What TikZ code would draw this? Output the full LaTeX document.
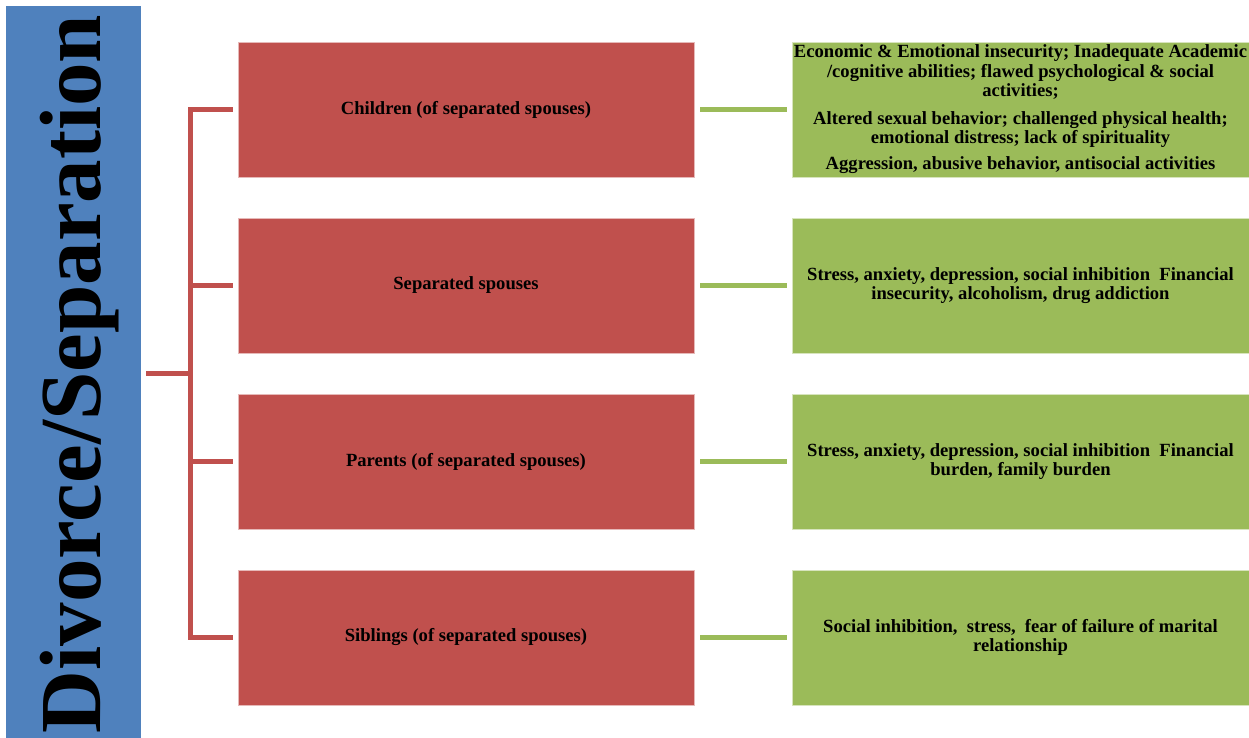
\documentclass[tikz,border=0pt]{standalone}
\usepackage{fontspec}
\setmainfont{Liberation Serif}
\usetikzlibrary{positioning}

\definecolor{barblue}{HTML}{4F81BD}
\definecolor{boxred}{HTML}{C0504D}
\definecolor{boxgreen}{HTML}{9BBB59}

\tikzset{
  group/.style={rectangle, fill=boxred, draw=white!60!boxred, line width=0.6pt,
    minimum width=456pt, minimum height=135pt, inner sep=0pt,
    font=\bfseries\fontsize{18.6}{19.2}\selectfont, align=center},
  effects/.style={rectangle, fill=boxgreen, draw=white!60!boxgreen, line width=0.6pt,
    minimum width=457pt, minimum height=135pt, inner sep=0pt,
    font=\bfseries\fontsize{18.6}{19.2}\selectfont, align=center},
  bracket/.style={draw=boxred, line width=5pt},
  link/.style={draw=boxgreen, line width=4.5pt},
}

\begin{document}
\begin{tikzpicture}[x=1pt, y=1pt, node distance=176pt and 554.5pt, on grid]
  \useasboundingbox (0,0) rectangle (1249,738);

  % title bar
  \node[rectangle, fill=barblue, minimum width=135pt, minimum height=732pt, inner sep=0pt]
    (title) at (73.5,366) {};
  \node[rotate=90, anchor=base, font=\bfseries\fontsize{87}{87}\selectfont]
    (titletext) at (100,364) {Divorce/Separation};

  % affected groups
  \node[group] (children) at (466,628.5) {Children (of separated spouses)};
  \node[group, below=of children] (spouses) {Separated spouses};
  \node[group, below=of spouses] (parents) {Parents (of separated spouses)};
  \node[group, below=of parents] (siblings) {Siblings (of separated spouses)};

  % effects
  \node[effects, right=of children] (childfx)
    {Economic \& Emotional insecurity; Inadequate Academic\\
     /cognitive abilities; flawed psychological \& social\\
     activities;\\[9pt]
     Altered sexual behavior; challenged physical health;\\
     emotional distress; lack of spirituality\\[7pt]
     Aggression, abusive behavior, antisocial activities};
  \node[effects, right=of spouses] (spousefx)
    {Stress, anxiety, depression, social inhibition\ \ Financial\\
     insecurity, alcoholism, drug addiction};
  \node[effects, right=of parents] (parentfx)
    {Stress, anxiety, depression, social inhibition\ \ Financial\\
     burden, family burden};
  \node[effects, right=of siblings] (siblingfx)
    {Social inhibition,\ \ stress,\ \ fear of failure of marital\\
     relationship};

  % connectors
  \coordinate (hub) at (146,364);
  \foreach \g in {children,spouses,parents,siblings}
    \draw[bracket] (hub) -- ++(44,0) |- ([xshift=-5pt]\g.west);
  \draw[link] ([xshift=6pt]children.east) -- ([xshift=-5pt]childfx.west);
  \draw[link] ([xshift=6pt]spouses.east) -- ([xshift=-5pt]spousefx.west);
  \draw[link] ([xshift=6pt]parents.east) -- ([xshift=-5pt]parentfx.west);
  \draw[link] ([xshift=6pt]siblings.east) -- ([xshift=-5pt]siblingfx.west);
\end{tikzpicture}
\end{document}
